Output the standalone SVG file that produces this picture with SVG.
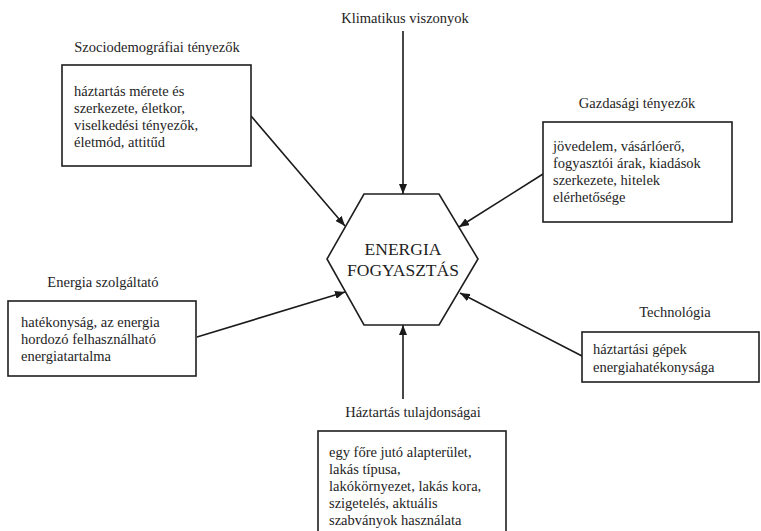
<svg xmlns="http://www.w3.org/2000/svg" width="761" height="531" viewBox="0 0 761 531">
<defs>
<marker id="arr" viewBox="0 0 10 8" refX="10" refY="4" markerWidth="10" markerHeight="8" markerUnits="userSpaceOnUse" orient="auto">
<path d="M0,0 L10,4 L0,8 Z" fill="#1a1a1a"/>
</marker>
</defs>
<style>
text{font-family:"Liberation Serif","Times New Roman",serif;fill:#1e1e1e;font-size:14.5px}
.t{text-anchor:middle}
.box{fill:#fff;stroke:#1e1e1e;stroke-width:1.6}
.hex{fill:#fff;stroke:#1e1e1e;stroke-width:1.6}
.hx{font-size:17.5px;text-anchor:middle}
.c{stroke:#1a1a1a;stroke-width:1.6;fill:none;marker-end:url(#arr)}
</style>
<rect width="761" height="531" fill="#fff"/>
<g id="connectors">
<line class="c" x1="403" y1="31" x2="403" y2="194"/>
<line class="c" x1="251" y1="116" x2="345" y2="226"/>
<line class="c" x1="543" y1="174" x2="459" y2="227"/>
<line class="c" x1="197" y1="337" x2="345" y2="292"/>
<line class="c" x1="582" y1="356" x2="460" y2="293"/>
<line class="c" x1="403" y1="399" x2="403" y2="325"/>
</g>
<g id="energia-fogyasztas">
<polygon class="hex" points="364,194 439,194 478,259 439,325 364,325 327,259"/>
<text class="hx" x="403" y="255">ENERGIA</text>
<text class="hx" x="403" y="276">FOGYASZTÁS</text>
</g>
<g id="klimatikus">
<text class="t" x="405" y="23">Klimatikus viszonyok</text>
</g>
<g id="szociodemografiai">
<text class="t" x="157" y="52">Szociodemográfiai tényezők</text>
<rect class="box" x="62" y="65" width="189" height="101"/>
<text x="74" y="96">háztartás mérete és</text>
<text x="74" y="113">szerkezete, életkor,</text>
<text x="74" y="130">viselkedési tényezők,</text>
<text x="74" y="147">életmód, attitűd</text>
</g>
<g id="gazdasagi">
<text class="t" x="637" y="108">Gazdasági tényezők</text>
<rect class="box" x="543" y="122" width="189" height="100"/>
<text x="553" y="151">jövedelem, vásárlóerő,</text>
<text x="553" y="168">fogyasztói árak, kiadások</text>
<text x="553" y="185">szerkezete, hitelek</text>
<text x="553" y="202">elérhetősége</text>
</g>
<g id="energia-szolgaltato">
<text class="t" x="103" y="287">Energia szolgáltató</text>
<rect class="box" x="8" y="301" width="188" height="75"/>
<text x="21" y="327">hatékonyság, az energia</text>
<text x="21" y="344">hordozó felhasználható</text>
<text x="21" y="361">energiatartalma</text>
</g>
<g id="technologia">
<text class="t" x="675" y="317">Technológia</text>
<rect class="box" x="582" y="332" width="177" height="50"/>
<text x="593" y="354">háztartási gépek</text>
<text x="593" y="372">energiahatékonysága</text>
</g>
<g id="haztartas">
<text class="t" x="413" y="417">Háztartás tulajdonságai</text>
<rect class="box" x="318" y="431" width="188" height="110"/>
<text x="329" y="457">egy főre jutó alapterület,</text>
<text x="329" y="474">lakás típusa,</text>
<text x="329" y="491">lakókörnyezet, lakás kora,</text>
<text x="329" y="508">szigetelés, aktuális</text>
<text x="329" y="525">szabványok használata</text>
</g>
</svg>
